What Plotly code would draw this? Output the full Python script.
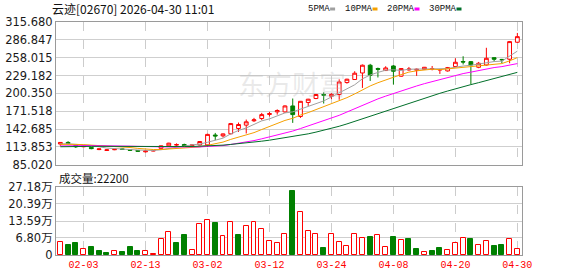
import plotly.graph_objects as go

# ---------------- data ----------------
dates = ["01-29", "01-30", "02-02", "02-03", "02-04", "02-05", "02-06", "02-09", "02-10", "02-11",
         "02-12", "02-13", "02-16", "02-20", "02-23", "02-24", "02-25", "02-26", "02-27", "03-02",
         "03-03", "03-04", "03-05", "03-06", "03-09", "03-10", "03-11", "03-12", "03-13", "03-16",
         "03-17", "03-18", "03-19", "03-20", "03-23", "03-24", "03-25", "03-26", "03-27", "03-30",
         "03-31", "04-01", "04-02", "04-08", "04-09", "04-10", "04-13", "04-14", "04-15", "04-16",
         "04-17", "04-20", "04-21", "04-22", "04-23", "04-24", "04-27", "04-28", "04-29", "04-30"]

opens = [118.5, 121, 116.5, 114, 113, 109.5, 108, 109.2, 110.5, 109.5,
         108, 105.8, 107.2, 111.5, 115.5, 116.8, 117.6, 115.6, 117, 117,
         133, 131.6, 135, 143.6, 149, 156, 159.7, 166.3, 170.4, 170.4,
         180, 163, 185.6, 192, 198.3, 195.7, 198.5, 217.8, 222.7, 233.3,
         245.8, 240.4, 237.2, 244.6, 228.1, 238.2, 237.8, 239.3, 239.6, 238,
         236.6, 243.7, 251.8, 251.6, 242.5, 246.2, 258, 255.2, 255.5, 283]
highs = [121.5, 123, 117, 116, 113.5, 111, 110, 110.5, 111, 109.8,
         108.2, 107.5, 108.2, 116, 120.5, 119.5, 119, 117.5, 123, 135,
         136.4, 135.5, 152.5, 153.2, 158, 160.7, 168.8, 170.4, 174.5, 181,
         192, 188, 191.5, 199, 202, 201, 223, 224, 236.1, 247,
         248, 242, 244.2, 246, 241, 243, 240.5, 243, 244.6, 240,
         243, 257, 260.3, 252.5, 251.1, 274, 258.5, 256, 285, 298]
lows = [115.5, 118, 112, 113, 110, 108.5, 107.5, 108.5, 109.5, 107.8,
        106, 104.8, 106.8, 111, 115, 115.5, 114.8, 115, 116.5, 113.5,
        124.7, 129, 134, 138, 135.5, 154, 157, 163, 166, 169,
        152.6, 160.7, 180, 191, 183.9, 191, 190, 216, 222, 209.1,
        220.4, 226, 236.5, 214.6, 227, 237, 228.5, 238.5, 237.5, 231.7,
        235.5, 243, 247, 215, 241, 245, 251.6, 249, 249, 282]
closes = [121, 119.5, 114, 115, 111, 110.5, 109, 110, 109.8, 108.3,
          106.8, 107.2, 107.8, 115.5, 119.8, 117.5, 115.5, 116.8, 122.5, 134,
          131.5, 134.8, 151.5, 150, 154.3, 157.5, 166, 167.5, 172.6, 180,
          166, 187.5, 190.9, 198.5, 197.5, 198.6, 218.8, 223.2, 232.9, 245.8,
          229.6, 239.3, 241.4, 236.1, 240.4, 239.6, 239.2, 242.5, 240.2, 238.8,
          242, 250.6, 251, 246.2, 249, 257, 255.5, 254.6, 284, 292]
# closes before the visible window (feed the moving averages)
prior_closes = [108, 110, 112, 111, 109, 113, 115, 114, 112, 110,
                111, 113, 114, 112, 110, 113, 115, 114, 112,
                114, 116, 118, 119, 117, 116, 118, 119, 117, 118]
volumes = [50600, 40000, 48000, 24000, 32000, 16000, 8000, 14600, 12000, 32000,
           16000, 14600, 4000, 62600, 90600, 48000, 80000, 18600, 122500, 138500,
           127900, 74600, 130500, 80000, 114600, 133200, 102600, 54600, 46600, 82600,
           255700, 170500, 94600, 82600, 28000, 82600, 50600, 36000, 82600, 66600,
           71900, 78600, 32000, 71900, 58600, 63900, 24000, 10700, 16000, 28000,
           18600, 46600, 66600, 63900, 38600, 54600, 36000, 40000, 62600, 22200]

tick_dates = ["02-03", "02-13", "03-02", "03-12", "03-24", "04-08", "04-20", "04-30"]
price_ticks = [85.020, 113.853, 142.685, 171.518, 200.350, 229.182, 258.015, 286.847, 315.680]
vol_tick_vals = [0, 68000, 135900, 203900, 271800]
vol_tick_text = ["0", "6.80万", "13.59万", "20.39万", "27.18万"]
ma_periods = [5, 10, 20, 30]
ma_names = ["5PMA", "10PMA", "20PMA", "30PMA"]
ma_colors = ["#a0a0a0", "#f5a000", "#ff00ff", "#006f2a"]
title_text = "云迹[02670] 2026-04-30 11:01"

RED = "#ff0000"
GREEN = "#008000"

# ---------------- derived ----------------
x = list(range(len(dates)))
all_closes = prior_closes + closes
n0 = len(prior_closes)


def moving_avg(p):
    return [sum(all_closes[n0 + i - p + 1:n0 + i + 1]) / p for i in range(len(closes))]


prev_close = [all_closes[n0 + i - 1] for i in range(len(closes))]
vol_up = [c >= pc for c, pc in zip(closes, prev_close)]

tickvals = [dates.index(d) for d in tick_dates]

# page geometry (px)
W, H = 578, 276
L, R, T, B = 56, 56, 22, 21
PW, PH = W - L - R, H - T - B


def px(xp):
    return (xp - L) / PW


def py(yp):
    return (H - B - yp) / PH


fig = go.Figure()

for p, name, col in zip(ma_periods, ma_names, ma_colors):
    fig.add_trace(go.Scatter(x=x, y=moving_avg(p), mode="lines", name=name,
                             line=dict(color=col, width=1), xaxis="x", yaxis="y",
                             hoverinfo="skip"))

fig.add_trace(go.Candlestick(
    x=x, open=opens, high=highs, low=lows, close=closes,
    increasing=dict(line=dict(color=RED, width=1), fillcolor="white"),
    decreasing=dict(line=dict(color=GREEN, width=1), fillcolor=GREEN),
    whiskerwidth=0, xaxis="x", yaxis="y", name="K"))

fig.add_trace(go.Bar(
    x=x, y=volumes, width=0.64,
    marker=dict(color=["white" if u else GREEN for u in vol_up],
                line=dict(color=[RED if u else GREEN for u in vol_up], width=1)),
    xaxis="x2", yaxis="y2", name="VOL"))

tick_font = dict(family="DejaVu Sans, Noto Sans CJK SC", size=11.5, color="#1a1a1a")
xr = [-0.56, len(dates) - 0.4]

fig.update_layout(
    width=W, height=H,
    margin=dict(l=L, r=R, t=T, b=B, autoexpand=False),
    paper_bgcolor="white", plot_bgcolor="white",
    showlegend=False,
    xaxis=dict(domain=[0, 1], range=xr, anchor="y", tickmode="array", tickvals=tickvals,
               showticklabels=False, showgrid=True, gridcolor="#cccccc", griddash="dash",
               gridwidth=1, zeroline=False, showline=True, mirror=True, linecolor="#9a9a9a",
               rangeslider=dict(visible=False), ticks="", automargin=False),
    yaxis=dict(domain=[py(164.7), 1], range=[price_ticks[0], price_ticks[-1]], anchor="x",
               tickmode="array", tickvals=price_ticks,
               ticktext=[f"{v:.3f}" for v in price_ticks],
               showgrid=True, gridcolor="#cfcfcf", gridwidth=1, zeroline=False,
               showline=True, mirror=True, linecolor="#9a9a9a", tickfont=tick_font, ticks="",
               automargin=False),
    xaxis2=dict(domain=[0, 1], range=xr, anchor="y2", tickmode="array", tickvals=tickvals,
                ticktext=tick_dates, showgrid=True, gridcolor="#cccccc", griddash="dash",
                zeroline=False, showline=True, mirror=True, linecolor="#9a9a9a", ticks="",
                tickfont=dict(family="Liberation Mono", size=10, color=RED), automargin=False),
    yaxis2=dict(domain=[0, py(187)], range=[0, vol_tick_vals[-1]], anchor="x2",
                tickmode="array", tickvals=vol_tick_vals, ticktext=vol_tick_text,
                showgrid=True, gridcolor="#cfcfcf", zeroline=False, showline=True,
                mirror=True, linecolor="#9a9a9a", tickfont=tick_font, ticks="",
                automargin=False),
    bargap=0,
)

ann = []
# title
ann.append(dict(text=title_text, x=px(50), y=py(9), xref="paper", yref="paper",
                xanchor="left", yanchor="middle", showarrow=False,
                font=dict(family="Noto Sans CJK SC", size=12, color="#111")))
# volume label
ann.append(dict(text=f"成交量:{volumes[-1]}", x=px(57), y=py(178), xref="paper", yref="paper",
                xanchor="left", yanchor="middle", showarrow=False,
                font=dict(family="Noto Sans CJK SC", size=11.5, color="#111")))
# watermark
ann.append(dict(text="东方财富", x=px(292), y=py(83), xref="paper", yref="paper",
                xanchor="center", yanchor="middle", showarrow=False,
                font=dict(family="Noto Sans CJK SC", size=27, color="rgba(180,180,180,0.28)")))

# MA legend
leg_x = [306, 343, 385, 427]
shapes = []
for lx, name, col in zip(leg_x, ma_names, ma_colors):
    ann.append(dict(text=name, x=px(lx), y=py(9), xref="paper", yref="paper",
                    xanchor="left", yanchor="middle", showarrow=False,
                    font=dict(family="Liberation Mono", size=9, color="#111")))
    x0 = lx + len(name) * 5.4 + 2.5
    shapes.append(dict(type="rect", xref="paper", yref="paper",
                       x0=px(x0), x1=px(x0 + 5), y0=py(10.5), y1=py(7.5),
                       fillcolor=col, line=dict(width=0)))

fig.update_layout(annotations=ann, shapes=shapes)

fig.write_html("out.html")
